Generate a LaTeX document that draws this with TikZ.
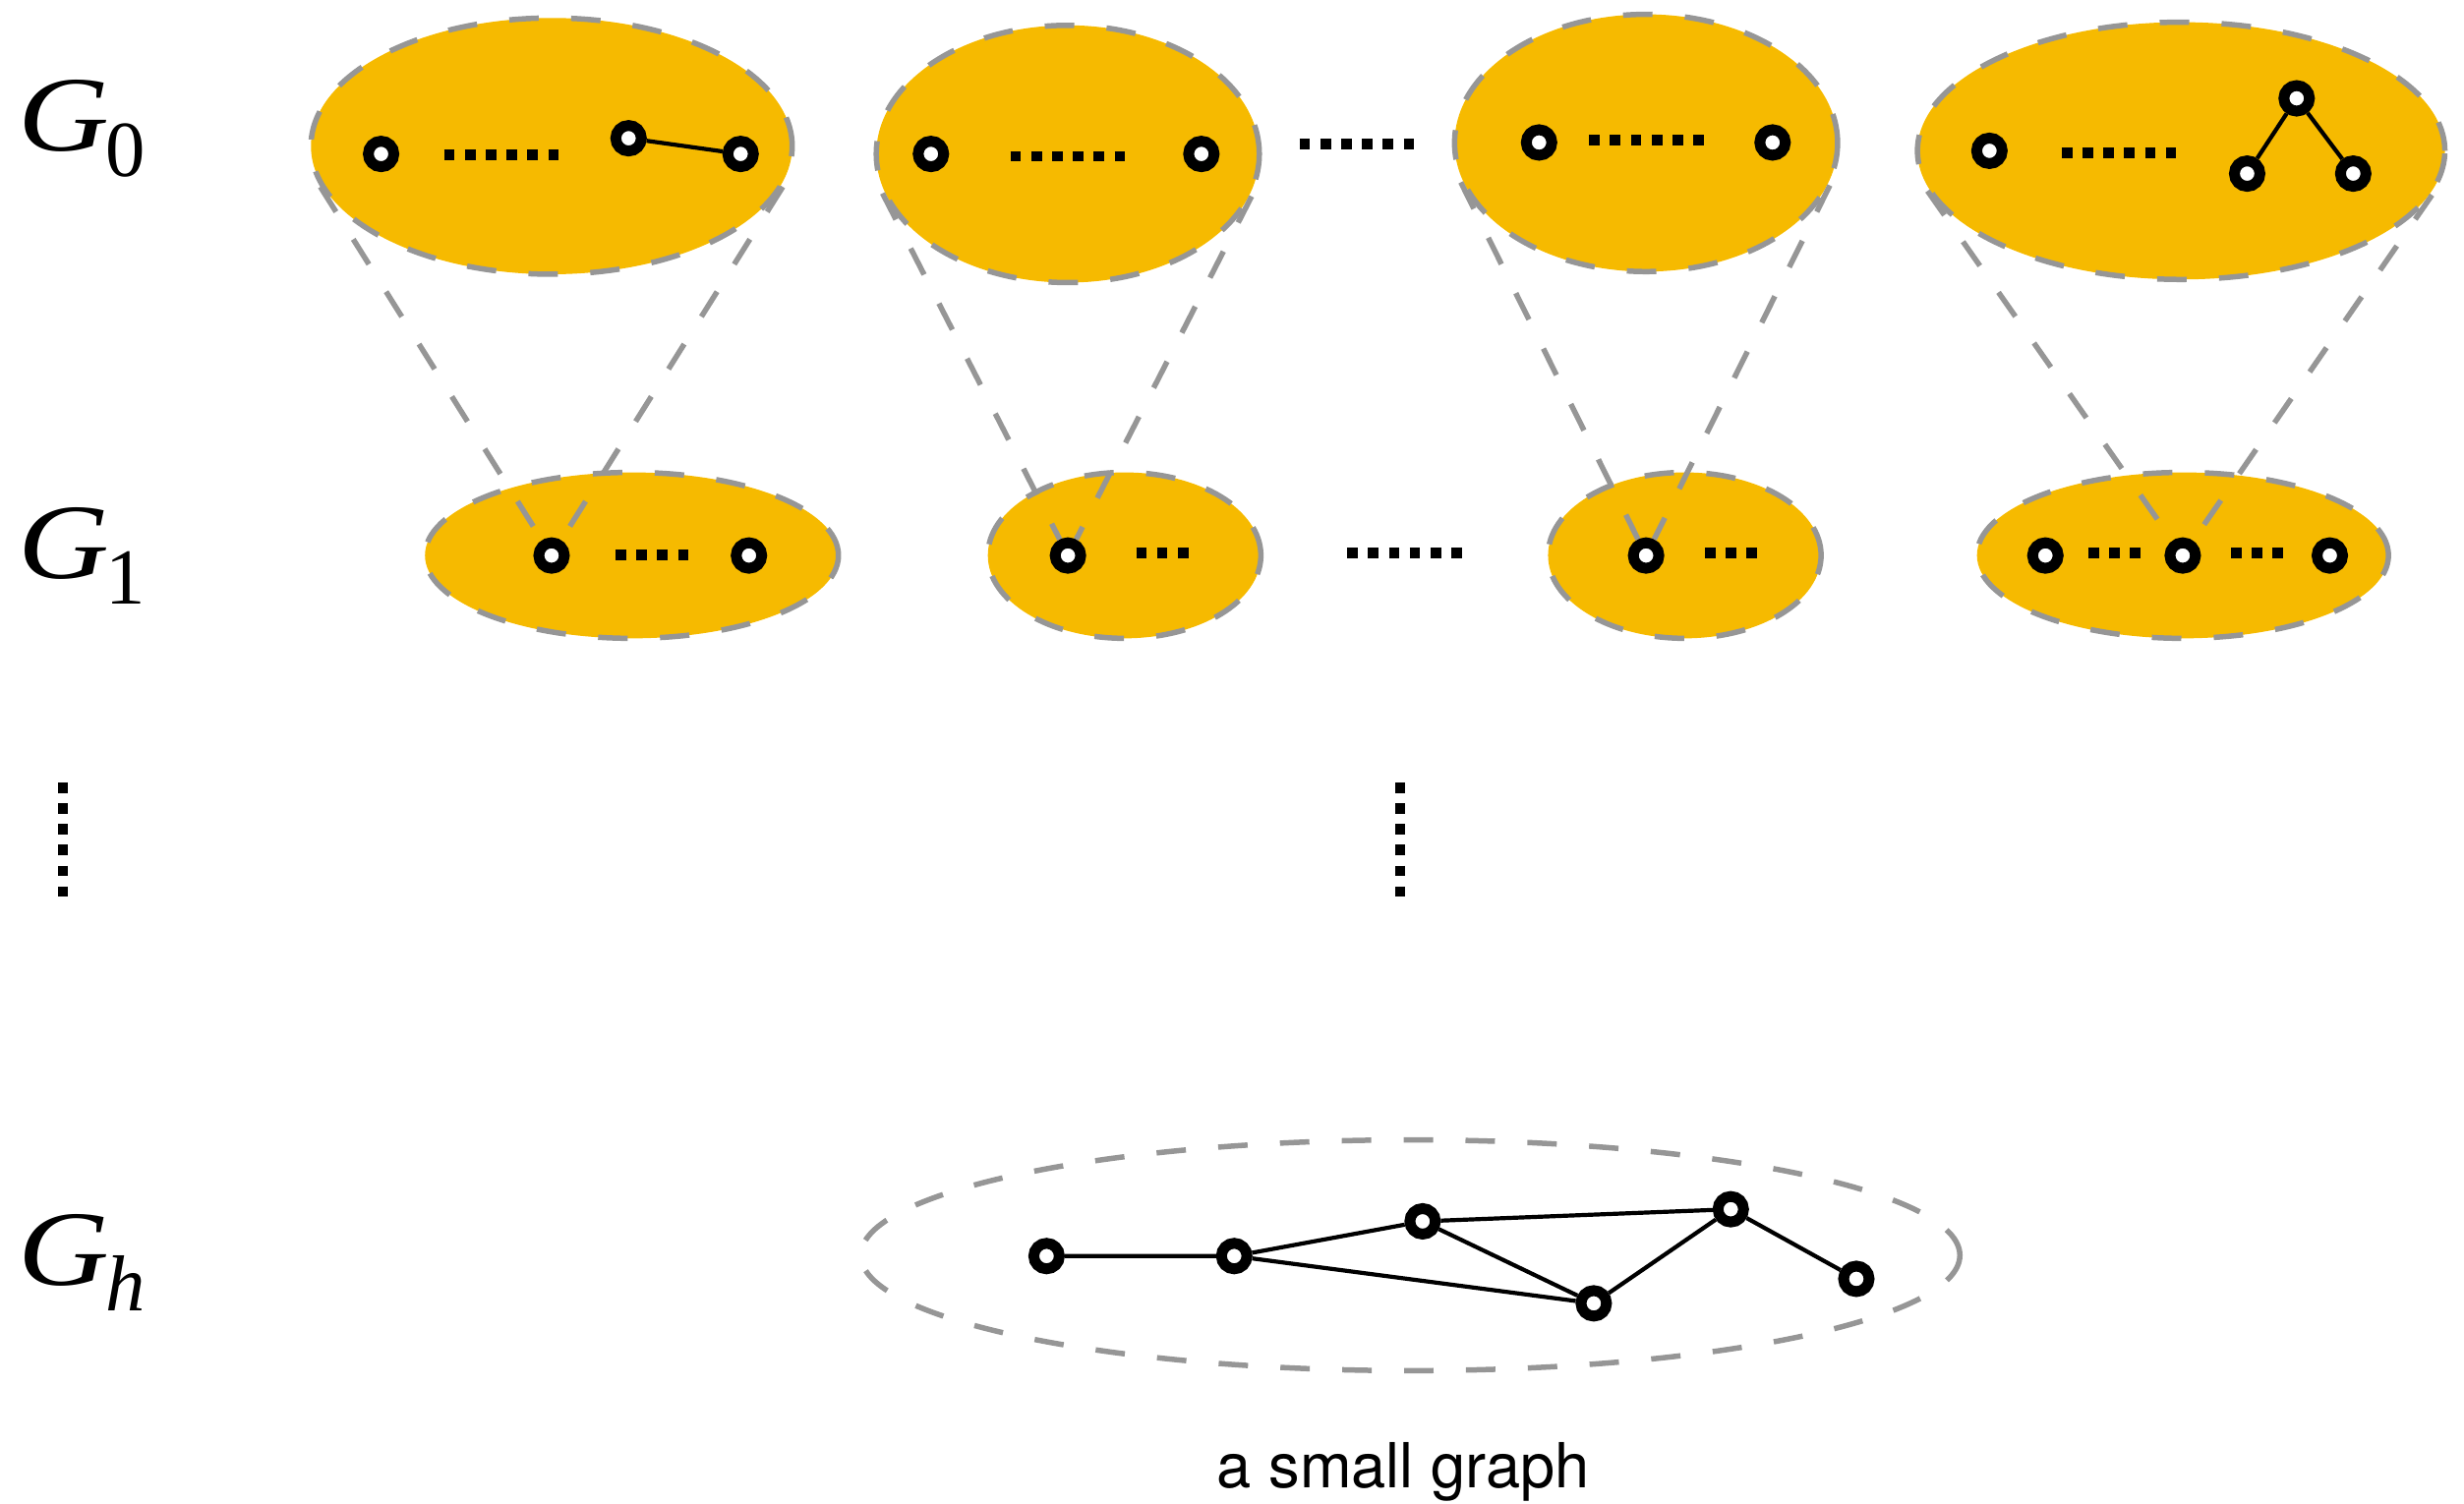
\documentclass[tikz,border=0pt]{standalone}
\usepackage{fontspec}
\newfontfamily\heros{TeX Gyre Heros}
\newfontfamily\timesfont{Liberation Serif}
\usepackage{tikz}
\usetikzlibrary{shapes.geometric}

\definecolor{gold}{RGB}{246,186,0}
\definecolor{hullgray}{RGB}{150,150,150}

% level name with a lowered index
\newcommand\lvl[1]{\scalebox{1.18}[1]{\textit{G}}\kern-1pt\raisebox{-7.5pt}{\fontsize{23}{23}\selectfont #1}}

\tikzset{
  vtx/.style={circle, draw=black, fill=white, line width=1.1mm, minimum size=2.6mm, inner sep=0pt},
  hull/.style 2 args={ellipse, draw=hullgray, line width=0.55mm, dash pattern=on 3mm off 3.3mm,
    minimum width=#1, minimum height=#2, inner sep=0pt},
  blob/.style 2 args={hull={#1}{#2}, fill=gold},
  proj/.style={draw=hullgray, line width=0.55mm, dash pattern=on 3mm off 3.3mm},
  link/.style={line width=0.42mm},
  dotrow/.style={line width=1.07mm, dash pattern=on 1.07mm off 1.05mm},
  glabel/.style={font=\timesfont\fontsize{31}{36}\selectfont, inner sep=0pt, anchor=base west}
}

\begin{document}
\begin{tikzpicture}[x=0.16mm, y=-0.16mm]
  \useasboundingbox (0,0) rectangle (1568,957);

  % levels
  \node[glabel] (lev0) at (11,96) {\lvl{0}};
  \node[glabel] (lev1) at (11,368) {\lvl{1}};
  \node[glabel] (levh) at (11,818) {\lvl{\itshape h}};

  % clusters of G_0
  \node[blob={49mm}{26.1mm}] (top1) at (351,93) {};
  \node[blob={39mm}{26.2mm}] (top2) at (679.5,98) {};
  \node[blob={39mm}{26.2mm}] (top3) at (1047.5,91) {};
  \node[blob={53.7mm}{26.2mm}] (top4) at (1388,96) {};

  % clusters of G_1
  \node[blob={42.1mm}{16.9mm}] (mid1) at (402,353.5) {};
  \node[blob={27.8mm}{16.9mm}] (mid2) at (715.5,353.5) {};
  \node[blob={27.8mm}{16.9mm}] (mid3) at (1072,353.5) {};
  \node[blob={41.9mm}{16.9mm}] (mid4) at (1389,353.5) {};

  % the coarsest level
  \node[hull={111.9mm}{23.5mm}] (small) at (897.5,799) {};
  \node[font=\heros\fontsize{18}{22}\selectfont, anchor=base] (caption) at (893,947) {a small graph};

  % vertices of G_0
  \node[vtx] (t1a) at (242.5,98) {};
  \node[vtx] (t1b) at (400,88) {};
  \node[vtx] (t1c) at (471.3,98) {};
  \node[vtx] (t2a) at (592.4,98) {};
  \node[vtx] (t2b) at (764.5,98) {};
  \node[vtx] (t3a) at (979.4,90.7) {};
  \node[vtx] (t3b) at (1128,90.7) {};
  \node[vtx] (t4a) at (1266,96) {};
  \node[vtx] (t4b) at (1430,110.5) {};
  \node[vtx] (t4c) at (1461.5,62.6) {};
  \node[vtx] (t4d) at (1497.5,110.5) {};

  % vertices of G_1
  \node[vtx] (m1a) at (351,353.6) {};
  \node[vtx] (m1b) at (476.6,353.6) {};
  \node[vtx] (m2a) at (679.6,353.6) {};
  \node[vtx] (m3a) at (1047.5,353.6) {};
  \node[vtx] (m4a) at (1301.6,353.6) {};
  \node[vtx] (m4b) at (1389,353.6) {};
  \node[vtx] (m4c) at (1482.6,353.6) {};

  % vertices of G_h
  \node[vtx] (s1) at (666,799.5) {};
  \node[vtx] (s2) at (785.4,799.5) {};
  \node[vtx] (s3) at (905.3,777.4) {};
  \node[vtx] (s4) at (1014.2,829.6) {};
  \node[vtx] (s5) at (1101.4,769.7) {};
  \node[vtx] (s6) at (1181.3,814) {};

  % each cluster shrinks to one vertex
  \draw[proj] (top1.190) -- (m1a);
  \draw[proj] (top1.350) -- (m1a);
  \draw[proj] (top2.192.9) -- (m2a);
  \draw[proj] (top2.347.1) -- (m2a);
  \draw[proj] (top3.192.5) -- (m3a);
  \draw[proj] (top3.347.5) -- (m3a);
  \draw[proj] (top4.189.3) -- (m4b);
  \draw[proj] (top4.350.7) -- (m4b);

  % edges
  \draw[link] (t1b) -- (t1c);
  \draw[link] (t4b) -- (t4c) -- (t4d);
  \draw[link] (s1) -- (s2) -- (s3) -- (s5) -- (s6);
  \draw[link] (s2) -- (s4) -- (s5);
  \draw[link] (s3) -- (s4);

  % dots
  \draw[dotrow] (282.6,98.5) -- ++(11.67mm,0);
  \draw[dotrow] (643,99.5) -- ++(11.67mm,0);
  \draw[dotrow] (827,91.8) -- ++(11.67mm,0);
  \draw[dotrow] (1011.3,89.3) -- ++(11.67mm,0);
  \draw[dotrow] (1312,97.4) -- ++(11.67mm,0);
  \draw[dotrow] (391.7,353) -- ++(7.43mm,0);
  \draw[dotrow] (723,352) -- ++(5.31mm,0);
  \draw[dotrow] (857.3,352) -- ++(11.67mm,0);
  \draw[dotrow] (1085,352) -- ++(5.31mm,0);
  \draw[dotrow] (1329,352) -- ++(5.31mm,0);
  \draw[dotrow] (1419.7,352) -- ++(5.31mm,0);
  \draw[dotrow] (40,498) -- ++(0,-11.67mm);
  \draw[dotrow] (891,498) -- ++(0,-11.67mm);
\end{tikzpicture}
\end{document}
